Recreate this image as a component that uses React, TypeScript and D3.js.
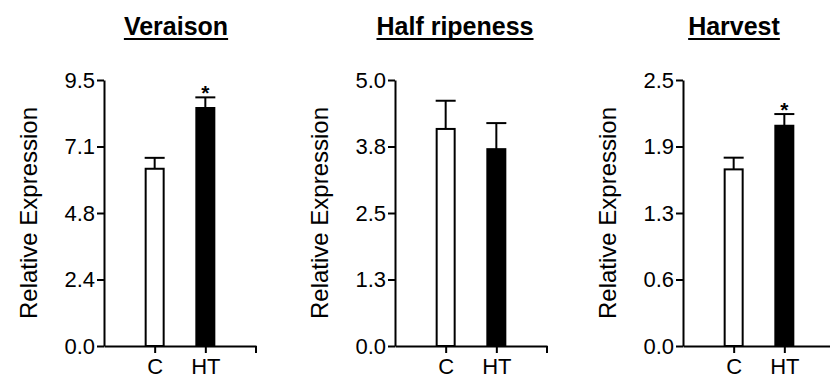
import * as d3 from "d3";
import { useEffect, useRef } from "react";

const stages = ["Veraison", "Half ripeness", "Harvest"];
const groups = ["C", "HT"];
const yMax = [9.5, 5.0, 2.5];
const veraisonMean = [6.33, 8.5];
const veraisonErr = [0.39, 0.38];
const halfMean = [4.08, 3.7];
const halfErr = [0.53, 0.49];
const harvestMean = [1.66, 2.07];
const harvestErr = [0.11, 0.11];
const starred = [[false, true], [false, false], [false, true]];

const means = [veraisonMean, halfMean, harvestMean];
const errs = [veraisonErr, halfErr, harvestErr];

// layout
const axisX = [104, 395, 683];
const titleX = [176, 455, 734];
const top = 80, bottom = 346, axisLen = 152, barW = 18;
const font = "'Liberation Sans', Arial, sans-serif";

export default function App() {
  const ref = useRef<SVGSVGElement>(null);

  useEffect(() => {
    const svg = d3.select(ref.current);
    svg.selectAll("*").remove();

    stages.forEach((stage, i) => {
      const g = svg.append("g").attr("transform", `translate(${axisX[i]},0)`);
      const y = d3.scaleLinear().domain([0, yMax[i]]).range([bottom, top]);
      const x = d3.scalePoint().domain(groups).range([0, axisLen]).padding(1);
      const rows = groups.map((k, j) => ({ k, v: means[i][j], e: errs[i][j], s: starred[i][j], j }));

      // error bars (behind bars)
      const eb = g.selectAll(".err").data(rows).join("g").attr("class", "err");
      eb.append("line")
        .attr("x1", d => x(d.k)!).attr("x2", d => x(d.k)!)
        .attr("y1", d => y(d.v)).attr("y2", d => y(d.v + d.e))
        .attr("stroke", "#000").attr("stroke-width", 2);
      eb.append("line")
        .attr("x1", d => x(d.k)! - barW / 2 - 1).attr("x2", d => x(d.k)! + barW / 2 + 1)
        .attr("y1", d => y(d.v + d.e)).attr("y2", d => y(d.v + d.e))
        .attr("stroke", "#000").attr("stroke-width", 2);

      g.selectAll("rect").data(rows).join("rect")
        .attr("x", d => x(d.k)! - barW / 2)
        .attr("y", d => y(d.v))
        .attr("width", barW)
        .attr("height", d => y(0) - y(d.v))
        .attr("fill", d => (d.j === 0 ? "#fff" : "#000"))
        .attr("stroke", "#000").attr("stroke-width", 2);

      g.selectAll(".star").data(rows.filter(d => d.s)).join("text")
        .attr("class", "star")
        .attr("x", d => x(d.k)!)
        .attr("y", d => y(d.v + d.e) + 3)
        .attr("text-anchor", "middle")
        .attr("font-family", font).attr("font-weight", "bold").attr("font-size", 21)
        .text("*");

      // y axis
      const ticks = d3.range(5).map(t => (yMax[i] * t) / 4);
      const ya = g.append("g").call(
        d3.axisLeft(y).tickValues(ticks).tickFormat(d3.format(".1f")).tickSize(7).tickSizeOuter(0).tickPadding(2)
      );
      // x axis
      const xa = g.append("g").attr("transform", `translate(0,${bottom})`).call(
        d3.axisBottom(x).tickSize(7).tickSizeOuter(0).tickPadding(5)
      );
      xa.append("line").attr("x1", axisLen).attr("x2", axisLen).attr("y1", 0).attr("y2", 7);
      [ya, xa].forEach(a => {
        a.selectAll("path, line").attr("stroke", "#000").attr("stroke-width", 2);
        a.selectAll("text").attr("font-family", font).attr("font-size", 22).attr("fill", "#000");
      });

      g.append("text")
        .attr("transform", `translate(${-74},${(top + bottom) / 2}) rotate(-90)`)
        .attr("dy", "0.3em")
        .attr("text-anchor", "middle")
        .attr("font-family", font).attr("font-size", 24)
        .text("Relative Expression");

      const t = svg.append("text")
        .attr("x", titleX[i]).attr("y", 35)
        .attr("text-anchor", "middle")
        .attr("font-family", font).attr("font-weight", "bold").attr("font-size", 25)
        .text(stage);
      const w = (t.node() as SVGTextElement).getComputedTextLength();
      svg.append("line")
        .attr("x1", titleX[i] - w / 2).attr("x2", titleX[i] + w / 2)
        .attr("y1", 39).attr("y2", 39)
        .attr("stroke", "#000").attr("stroke-width", 2);
    });
  }, []);

  return <svg ref={ref} width={830} height={378} style={{ display: "block", position: "absolute", left: 0, top: 0, background: "#fff" }}></svg>;
}
